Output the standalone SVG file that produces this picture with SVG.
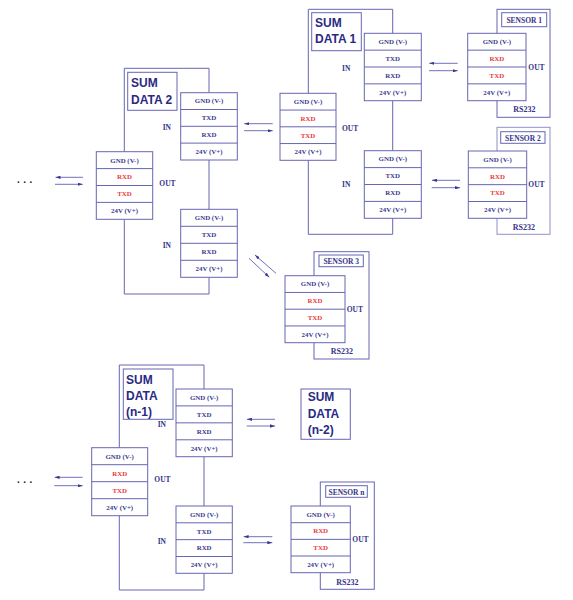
<svg xmlns="http://www.w3.org/2000/svg" width="573" height="600" viewBox="0 0 573 600">
<defs>
<marker id="ah" viewBox="0 0 6 4" refX="6" refY="2" markerWidth="5" markerHeight="3.4" markerUnits="userSpaceOnUse" orient="auto"><path d="M0,0 L6,2 L0,4 z" fill="#3a3a90"/></marker>
<style>
.fr{fill:none;stroke:#6666b3;stroke-width:1}
.bx{fill:#fff;stroke:#6666b3;stroke-width:1}
.ln{stroke:#6666b3;stroke-width:1}
.t{font-family:"Liberation Serif",serif;font-weight:bold;font-size:6.9px;fill:#3a3a8e;text-anchor:middle}
.r{fill:#ea3b3b}
.lb{font-family:"Liberation Serif",serif;font-weight:bold;font-size:7.5px;fill:#34348a}
.rs{font-family:"Liberation Serif",serif;font-weight:bold;font-size:8px;fill:#34348a}
.sd{font-family:"Liberation Sans",sans-serif;font-weight:bold;font-size:12px;fill:#2a2a85}
.ar{stroke:#7070b8;stroke-width:1;fill:none;marker-end:url(#ah)}
.dots{font-family:"Liberation Sans",sans-serif;font-weight:bold;font-size:10px;fill:#222;letter-spacing:3.5px}
</style>
</defs>
<rect width="573" height="600" fill="#fff"/>

<!-- SUM DATA 2 -->
<g id="sumdata2">
<path class="fr" d="M209,92.7 V68.3 H124.3 V151.7 M124.3,219.3 V294 H209 V277.3 M209,160 V209.3"/>
<rect class="bx" x="127.7" y="72.3" width="49.3" height="38"/>
<text class="sd" x="131" y="87.3">SUM</text>
<text class="sd" x="131" y="103.5">DATA 2</text>
<g id="sd2-in1">
<rect class="bx" x="180.7" y="92.7" width="56.6" height="67.3"/>
<path class="ln" d="M180.7,109.5 H237.3 M180.7,126.3 H237.3 M180.7,143.1 H237.3"/>
<text class="t" x="209" y="103.4">GND (V-)</text><text class="t" x="209" y="120.2">TXD</text><text class="t" x="209" y="137">RXD</text><text class="t" x="209" y="153.8">24V (V+)</text>
</g>
<g id="sd2-in2">
<rect class="bx" x="180.7" y="209.3" width="56.6" height="68"/>
<path class="ln" d="M180.7,226.3 H237.3 M180.7,243.3 H237.3 M180.7,260.3 H237.3"/>
<text class="t" x="209" y="220.1">GND (V-)</text><text class="t" x="209" y="237.1">TXD</text><text class="t" x="209" y="254.1">RXD</text><text class="t" x="209" y="271.1">24V (V+)</text>
</g>
<g id="sd2-out">
<rect class="bx" x="96.3" y="151.7" width="56.4" height="67.6"/>
<path class="ln" d="M96.3,168.6 H152.7 M96.3,185.5 H152.7 M96.3,202.4 H152.7"/>
<text class="t" x="124.5" y="162.5">GND (V-)</text><text class="t r" x="124.5" y="179.4">RXD</text><text class="t r" x="124.5" y="196.3">TXD</text><text class="t" x="124.5" y="213.2">24V (V+)</text>
</g>
<text class="lb" x="162.7" y="130.3">IN</text>
<text class="lb" x="159.3" y="185.5">OUT</text>
<text class="lb" x="162.7" y="248">IN</text>
</g>

<!-- SUM DATA 1 -->
<g id="sumdata1">
<path class="fr" d="M392.7,33.3 V9.3 H308.3 V93.3 M308.3,160.3 V234.3 H392.7 V218.3 M392.7,100.7 V150.7"/>
<rect class="bx" x="311.7" y="12.7" width="49.6" height="38"/>
<text class="sd" x="315" y="26.5">SUM</text>
<text class="sd" x="315" y="43.3">DATA 1</text>
<g id="sd1-in1">
<rect class="bx" x="364.3" y="33.3" width="57" height="67.4"/>
<path class="ln" d="M364.3,50.15 H421.3 M364.3,67 H421.3 M364.3,83.85 H421.3"/>
<text class="t" x="392.8" y="44">GND (V-)</text><text class="t" x="392.8" y="60.9">TXD</text><text class="t" x="392.8" y="77.7">RXD</text><text class="t" x="392.8" y="94.6">24V (V+)</text>
</g>
<g id="sd1-in2">
<rect class="bx" x="364.3" y="150.7" width="57" height="67.6"/>
<path class="ln" d="M364.3,167.6 H421.3 M364.3,184.5 H421.3 M364.3,201.4 H421.3"/>
<text class="t" x="392.8" y="161.4">GND (V-)</text><text class="t" x="392.8" y="178.3">TXD</text><text class="t" x="392.8" y="195.2">RXD</text><text class="t" x="392.8" y="212.1">24V (V+)</text>
</g>
<g id="sd1-out">
<rect class="bx" x="280" y="93.3" width="56" height="67"/>
<path class="ln" d="M280,110.05 H336 M280,126.8 H336 M280,143.55 H336"/>
<text class="t" x="308" y="104">GND (V-)</text><text class="t r" x="308" y="120.7">RXD</text><text class="t r" x="308" y="137.5">TXD</text><text class="t" x="308" y="154.2">24V (V+)</text>
</g>
<text class="lb" x="342" y="71">IN</text>
<text class="lb" x="342" y="130.5">OUT</text>
<text class="lb" x="342" y="187">IN</text>
</g>

<!-- SENSOR 1 -->
<g id="sensor1">
<rect class="fr" x="497" y="9.3" width="53" height="108"/>
<rect class="bx" x="501.7" y="12.7" width="45" height="14"/>
<text class="lb" x="524.2" y="22.5" text-anchor="middle">SENSOR 1</text>
<rect class="bx" x="467.7" y="33.3" width="58.3" height="67.4"/>
<path class="ln" d="M467.7,50.15 H526 M467.7,67 H526 M467.7,83.85 H526"/>
<text class="t" x="496.85" y="44">GND (V-)</text><text class="t r" x="496.85" y="60.9">RXD</text><text class="t r" x="496.85" y="77.7">TXD</text><text class="t" x="496.85" y="94.6">24V (V+)</text>
<text class="lb" x="528.3" y="69.5">OUT</text>
<text class="rs" x="513.3" y="112">RS232</text>
</g>

<!-- SENSOR 2 -->
<g id="sensor2">
<rect class="fr" x="497" y="127.3" width="53" height="107" style="stroke:#9090c6"/>
<rect class="bx" x="500.7" y="131.7" width="44.3" height="11.6"/>
<text class="lb" x="522.9" y="140.5" text-anchor="middle">SENSOR 2</text>
<rect class="bx" x="468.3" y="151" width="58.4" height="67.3"/>
<path class="ln" d="M468.3,167.8 H526.7 M468.3,184.65 H526.7 M468.3,201.5 H526.7"/>
<text class="t" x="497.5" y="161.7">GND (V-)</text><text class="t r" x="497.5" y="178.5">RXD</text><text class="t r" x="497.5" y="195.4">TXD</text><text class="t" x="497.5" y="212.2">24V (V+)</text>
<text class="lb" x="528.3" y="187">OUT</text>
<text class="rs" x="512.7" y="229.5">RS232</text>
</g>

<!-- SENSOR 3 -->
<g id="sensor3">
<rect class="fr" x="314" y="251.7" width="55" height="107.3"/>
<rect class="bx" x="319" y="255" width="44.3" height="11.7"/>
<text class="lb" x="341.2" y="264" text-anchor="middle">SENSOR 3</text>
<rect class="bx" x="285" y="275.7" width="60" height="67"/>
<path class="ln" d="M285,292.45 H345 M285,309.2 H345 M285,325.95 H345"/>
<text class="t" x="315" y="286.4">GND (V-)</text><text class="t r" x="315" y="303.1">RXD</text><text class="t r" x="315" y="319.9">TXD</text><text class="t" x="315" y="336.6">24V (V+)</text>
<text class="lb" x="346.7" y="312">OUT</text>
<text class="rs" x="330.7" y="354">RS232</text>
</g>

<!-- SUM DATA (n-1) -->
<g id="sumdata-n1">
<path class="fr" d="M204,389 V365 H119.3 V447.7 M119.3,515.7 V590 H204 V573.3 M204,456.7 V506"/>
<rect class="bx" x="123.3" y="369" width="49.7" height="50.3"/>
<text class="sd" x="126" y="383.5">SUM</text>
<text class="sd" x="126" y="400">DATA</text>
<text class="sd" x="126" y="416">(n-1)</text>
<g id="n1-in1">
<rect class="bx" x="176" y="389" width="56.3" height="67.7"/>
<path class="ln" d="M176,405.9 H232.3 M176,422.85 H232.3 M176,439.8 H232.3"/>
<text class="t" x="204.15" y="399.8">GND (V-)</text><text class="t" x="204.15" y="416.8">TXD</text><text class="t" x="204.15" y="433.7">RXD</text><text class="t" x="204.15" y="450.6">24V (V+)</text>
</g>
<g id="n1-in2">
<rect class="bx" x="176" y="506" width="56.3" height="67.3"/>
<path class="ln" d="M176,522.8 H232.3 M176,539.65 H232.3 M176,556.5 H232.3"/>
<text class="t" x="204.15" y="516.7">GND (V-)</text><text class="t" x="204.15" y="533.5">TXD</text><text class="t" x="204.15" y="550.4">RXD</text><text class="t" x="204.15" y="567.2">24V (V+)</text>
</g>
<g id="n1-out">
<rect class="bx" x="91.7" y="447.7" width="56" height="68"/>
<path class="ln" d="M91.7,464.7 H147.7 M91.7,481.7 H147.7 M91.7,498.7 H147.7"/>
<text class="t" x="119.7" y="458.5">GND (V-)</text><text class="t r" x="119.7" y="475.5">RXD</text><text class="t r" x="119.7" y="492.5">TXD</text><text class="t" x="119.7" y="509.5">24V (V+)</text>
</g>
<text class="lb" x="157.7" y="427">IN</text>
<text class="lb" x="154.3" y="482">OUT</text>
<text class="lb" x="157.7" y="544">IN</text>
</g>

<!-- SUM DATA (n-2) -->
<g id="sumdata-n2">
<rect class="bx" x="301" y="389" width="49.3" height="50.3"/>
<text class="sd" x="307.7" y="400.7">SUM</text>
<text class="sd" x="307.7" y="418">DATA</text>
<text class="sd" x="307.7" y="434">(n-2)</text>
</g>

<!-- SENSOR n -->
<g id="sensor-n">
<rect class="fr" x="320.3" y="482" width="54" height="107.3"/>
<rect class="bx" x="325.7" y="485.7" width="41.6" height="11.6"/>
<text class="lb" x="346.5" y="494.5" text-anchor="middle">SENSOR n</text>
<rect class="bx" x="291" y="506" width="59.3" height="66.7"/>
<path class="ln" d="M291,522.7 H350.3 M291,539.35 H350.3 M291,556 H350.3"/>
<text class="t" x="320.65" y="516.6">GND (V-)</text><text class="t r" x="320.65" y="533.2">RXD</text><text class="t r" x="320.65" y="549.9">TXD</text><text class="t" x="320.65" y="566.6">24V (V+)</text>
<text class="lb" x="352.3" y="542">OUT</text>
<text class="rs" x="336.3" y="584.5">RS232</text>
</g>

<text class="dots" x="17" y="183">...</text>
<text class="dots" x="17" y="483">...</text>

<!-- connectors -->
<g id="connectors">
<path class="ar" d="M83,177.3 H55.5"/>
<path class="ar" d="M55,184.3 H82.7"/>
<path class="ar" d="M272.7,123.7 H244.3"/>
<path class="ar" d="M244,130.7 H272.7"/>
<path class="ar" d="M457.7,63.3 H429.3"/>
<path class="ar" d="M429,70.7 H457.7"/>
<path class="ar" d="M460,180.3 H432"/>
<path class="ar" d="M431.7,187.7 H460"/>
<path class="ar" d="M249,258.3 L269.3,277.3"/>
<path class="ar" d="M276,273.3 L255,255"/>
<path class="ar" d="M82.7,477.3 H54.6"/>
<path class="ar" d="M54.3,485.7 H82.7"/>
<path class="ar" d="M275,419.3 H247"/>
<path class="ar" d="M246.7,426 H275"/>
<path class="ar" d="M272.3,536.7 H243.6"/>
<path class="ar" d="M243.3,542.7 H272.3"/>
</g>
</svg>
